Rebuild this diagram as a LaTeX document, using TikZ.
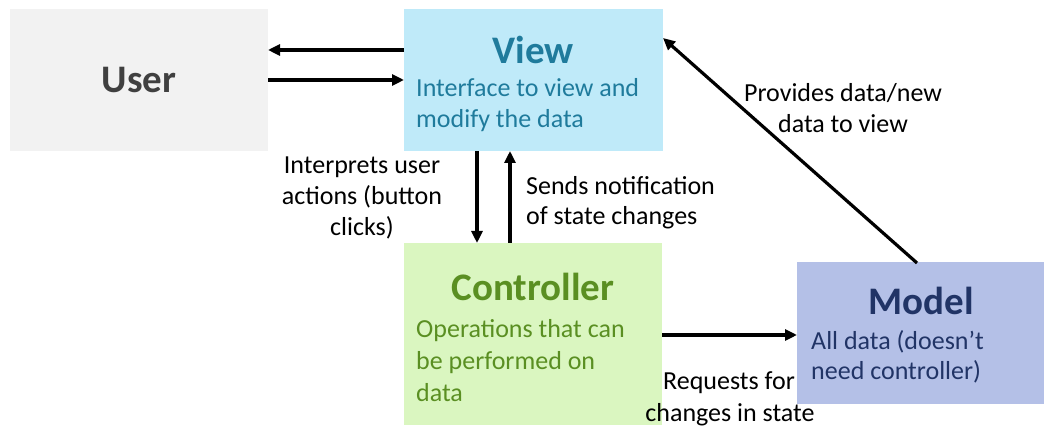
\documentclass[tikz,border=0pt]{standalone}
\usepackage{fontspec}
\setmainfont{Carlito}
\usetikzlibrary{arrows.meta}
\definecolor{userfill}{HTML}{F2F2F2}
\definecolor{usertext}{HTML}{404040}
\definecolor{viewfill}{HTML}{BFEAF9}
\definecolor{viewtext}{HTML}{1F7B9C}
\definecolor{ctrlfill}{HTML}{DAF6C0}
\definecolor{ctrltext}{HTML}{5A8F22}
\definecolor{modelfill}{HTML}{B4C0E7}
\definecolor{modeltext}{HTML}{213466}
\tikzset{
  box/.style={inner sep=0pt, outer sep=0pt},
  conn/.style={line width=3.2pt, -{Triangle[length=12pt,width=11pt]}},
  lbl/.style={font=\fontsize{26}{31}\selectfont, inner sep=0pt, anchor=base},
  lbll/.style={font=\fontsize{26}{31}\selectfont, inner sep=0pt, anchor=base west},
  title/.style={font=\fontsize{39}{44}\selectfont\bfseries, inner sep=0pt, anchor=base},
  body/.style={font=\fontsize{26}{31}\selectfont, inner sep=0pt, anchor=base west},
}
\begin{document}
\begin{tikzpicture}[x=1pt,y=1pt]
\useasboundingbox (0,0) rectangle (1044,427);
% boxes
\fill[userfill] (10,276) rectangle (268,418);
\fill[viewfill] (404,276) rectangle (663,418);
\fill[ctrlfill] (404,2) rectangle (662,184);
\fill[modelfill] (797,23) rectangle (1044,165);
% named anchors
\coordinate (uR1) at (268,377);
\coordinate (uR2) at (268,347);
\coordinate (vL1) at (404,377);
\coordinate (vL2) at (404,347);
\coordinate (vB1) at (477,276);
\coordinate (vB2) at (510,276);
\coordinate (cT1) at (477,184);
\coordinate (cT2) at (510,184);
\coordinate (cR) at (662,92);
\coordinate (mL) at (797,92);
\coordinate (mT) at (917,164);
\coordinate (vR) at (663,389);
% texts
\node[title, text=usertext] (usert) at (139,334) {User};
\node[title, text=viewtext] (viewt) at (533,363) {View};
\node[body, text=viewtext] (viewb1) at (416,330) {Interface to view and};
\node[body, text=viewtext] (viewb2) at (416,299) {modify the data};
\node[title, text=ctrltext] (ctrlt) at (533,126) {Controller};
\node[body, text=ctrltext] (ctrlb1) at (416,89) {Operations that can};
\node[body, text=ctrltext] (ctrlb2) at (416,57) {be performed on};
\node[body, text=ctrltext] (ctrlb3) at (416,25) {data};
\node[title, text=modeltext] (modelt) at (921,112) {Model};
\node[body, text=modeltext] (modelb1) at (811,77) {All data (doesn’t};
\node[body, text=modeltext] (modelb2) at (811,47) {need controller)};
% connectors
\draw[conn] (vL1) -- (uR1);
\draw[conn] (uR2) -- (vL2);
\draw[conn] (vB1) -- (cT1);
\draw[conn] (cT2) -- (vB2);
\draw[conn] (cR) -- (mL);
\draw[conn] (mT) -- (vR);
% labels
\node[lbl] (l1a) at (362,253) {Interprets user};
\node[lbl] (l1b) at (362,222) {actions (button};
\node[lbl] (l1c) at (362,191) {clicks)};
\node[lbll] (l2a) at (526,232) {Sends notification};
\node[lbll] (l2b) at (526,202) {of state changes};
\node[lbl] (l3a) at (843,325) {Provides data/new};
\node[lbl] (l3b) at (843,294) {data to view};
\node[lbl] (l4a) at (729,37) {Requests for};
\node[lbl] (l4b) at (730,5) {changes in state};
\end{tikzpicture}
\end{document}
